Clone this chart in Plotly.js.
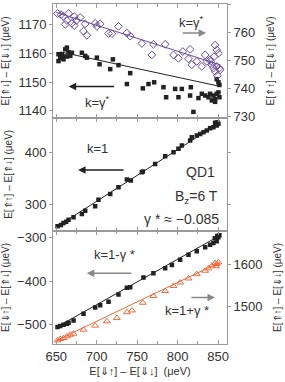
<!DOCTYPE html>
<html><head><meta charset="utf-8">
<script src="https://cdn.plot.ly/plotly-3.0.1.min.js"></script>
<style>html,body{margin:0;padding:0;background:#fff}#c{width:285px;height:382px}</style>
</head><body><div id="c"></div>
<script>
// Top panel: E[⇑↓]-E[⇓↓] (left, black squares) and E[⇑↑]-E[⇓↑] (right, purple diamonds)
const topBlackX = [652.8,654.9,652.8,657,659,661.1,663.2,665.2,663.2,667.3,669.4,659,681.7,685.8,687.9,700.2,703.5,716.7,720,726.9,741.4,737.3,757,764,771,782.5,785.8,796.9,801,805.2,815.4,816.3,819.5,825.7,829.9,834,838.1,840.1,842.2,844.2,846.3,848.3,850.4,851.6,848.3,850.4,851.6,846.3];
const topBlackY = [1159.7,1158.5,1157.3,1159.7,1158.9,1161.4,1162,1160.4,1158.9,1159.1,1160.2,1157.9,1160.2,1159.1,1158.5,1158.5,1156.2,1154.5,1157.9,1155.9,1153.1,1149.3,1147.8,1149.3,1149.9,1148.2,1144.7,1147.6,1144.7,1147.6,1145.3,1148.2,1139.6,1144.4,1145.9,1145.3,1144.7,1145.9,1143.6,1145.3,1144.1,1145.9,1146.4,1144.7,1151,1149.9,1149,1143.1];
const topPurpleX = [651.6,655.8,659,665.2,672.2,663.2,661.1,669.4,674.7,679.6,672.2,683.7,685.8,687.9,700.2,698.1,704.3,714.6,718.8,726.9,737.3,741.4,755.8,770.1,784.6,768.1,794.9,801,806.4,815.4,813.4,817.5,823.7,829.9,834,836,840.1,842.2,846.3,848.3,850.4,845,848.3,851.6,846.3,849.1,852.5,844.2,841];
const topPurpleY = [766.9,766.5,765.9,766.9,765.8,764.4,763,763.4,764.4,765.5,762.6,760.6,763.2,759.1,762.3,763.4,763.2,759.7,759.7,762.3,759.9,758.8,756.2,755.9,755.9,752.1,752.1,750.9,753.3,754.1,750.7,748.6,749.8,748,752.1,749.8,750.4,748.6,755.6,753.9,752.7,751.5,748,747.4,746.2,744.7,746.8,747.4,749.8];
const topBlackFitX = [655, 852];
const topBlackFitY = [1160.5, 1148.5];
const topPurpleFitX = [650, 852];
const topPurpleFitY = [767.3, 748.6];

// Middle panel: E[⇑↑]-E[⇑↓]
const midX = [651.6,655.8,659,662.3,665.2,671.4,681.7,685.8,698.1,702.2,716.7,726.9,737.3,742.2,757,755.8,772.2,784.6,794.9,801,805.2,815.4,817.5,823.7,827.8,831.9,836,840.1,844.2,848.3,850.4,846.3,849.1];
const midY = [259.6,262,265.8,268.3,272.1,276.7,282.9,289.2,297.5,310,320.9,333.6,348,346.1,363.2,362,377.8,392.4,400,406.3,412.6,422,428.5,431.5,434.7,437.9,441,445.5,447.4,450.5,453.7,455.6,456.9];
const midFitX = [650, 852];
const midFitY = [258, 456];

// Bottom panel: E[⇓↑]-E[⇑↓] (left, black) and E[⇑↑]-E[⇓↓] (right, orange)
const botBlackX = [651.6,654.9,659,663.2,665.2,671.4,683.7,698.1,704.3,714.6,726.9,737.3,741.4,757.8,770.1,784.6,792.9,803.1,813.4,823.7,834,840.1,844.2,848.3,850.4,851.6,849,846];
const botBlackY = [-505.3,-503,-500,-497.7,-495.4,-490,-474.6,-460.7,-455.4,-447.6,-430.7,-415.2,-413.9,-392.1,-382.2,-370.7,-363,-351.5,-340,-332.1,-322.9,-316.9,-313,-309,-300,-295,-297,-302];
const botOrangeX = [651.6,654.9,659,663.2,667.3,671.4,683.7,698.1,712.6,724.9,737.3,743.5,757,770.1,784.6,794.9,803.1,813.4,823.7,834,838.1,842.2,846.3,848.3,850.4,847.5];
const botOrangeY = [1418.5,1421.8,1424.2,1428,1432,1434.5,1444,1453.7,1464,1472,1485.6,1489.7,1508,1524,1536,1548,1556,1565.7,1576,1584,1589.7,1596,1602.4,1600,1604,1594.5];
const botBlackFitX = [650, 852];
const botBlackFitY = [-506, -296];
const botOrangeFitX = [650, 852];
const botOrangeFitY = [1418, 1604];

const xTickVals = [650, 700, 750, 800, 850];

const BLACK = '#222222', PURPLE = '#6a4c9c', ORANGE = '#f06a3c', AX = '#9a9a9a', TXT = '#333333';
const FONT = 'Liberation Sans, Arial, sans-serif';

const traces = [
  {x: topBlackX, y: topBlackY, xaxis: 'x', yaxis: 'y', mode: 'markers', marker: {symbol: 'square', size: 4.5, color: BLACK}},
  {x: topBlackFitX, y: topBlackFitY, xaxis: 'x', yaxis: 'y', mode: 'lines', line: {color: BLACK, width: 1}},
  {x: topPurpleX, y: topPurpleY, xaxis: 'x', yaxis: 'y4', mode: 'markers', marker: {symbol: 'diamond-open', size: 6, color: PURPLE, line: {width: 1, color: PURPLE}}},
  {x: topPurpleFitX, y: topPurpleFitY, xaxis: 'x', yaxis: 'y4', mode: 'lines', line: {color: PURPLE, width: 1}},
  {x: midX, y: midY, xaxis: 'x2', yaxis: 'y2', mode: 'markers', marker: {symbol: 'square', size: 4.5, color: BLACK}},
  {x: midFitX, y: midFitY, xaxis: 'x2', yaxis: 'y2', mode: 'lines', line: {color: BLACK, width: 1}},
  {x: botBlackX, y: botBlackY, xaxis: 'x3', yaxis: 'y3', mode: 'markers', marker: {symbol: 'square', size: 4.5, color: BLACK}},
  {x: botBlackFitX, y: botBlackFitY, xaxis: 'x3', yaxis: 'y3', mode: 'lines', line: {color: BLACK, width: 1}},
  {x: botOrangeX, y: botOrangeY, xaxis: 'x3', yaxis: 'y5', mode: 'markers', marker: {symbol: 'triangle-up-open', size: 6, color: ORANGE, line: {width: 1, color: ORANGE}}},
  {x: botOrangeFitX, y: botOrangeFitY, xaxis: 'x3', yaxis: 'y5', mode: 'lines', line: {color: ORANGE, width: 1}}
];

const xBase = {range: [646, 861], showline: true, linecolor: AX, linewidth: 1, mirror: 'ticks', ticks: 'inside', ticklen: 4, tickcolor: AX,
  tickvals: xTickVals, zeroline: false, showgrid: false, minor: {dtick: 25, ticks: 'inside', ticklen: 3, tickcolor: AX, showgrid: false}, tickfont: {size: 13, color: TXT, family: FONT}};
const yBase = {showline: true, linecolor: AX, linewidth: 1, ticks: 'outside', ticklen: 3, tickcolor: AX, zeroline: false, showgrid: false,
  tickfont: {size: 13, color: TXT, family: FONT}, automargin: false};
const titleFont = {size: 10, color: TXT, family: FONT};

function label(x, y, text, size, xanchor) {
  return {xref: 'paper', yref: 'paper', x: x, y: y, text: text, showarrow: false, font: {size: size, color: TXT, family: FONT}, xanchor: xanchor || 'center', yanchor: 'middle'};
}
function arrow(x, y, ax, color) {
  return {xref: 'paper', yref: 'paper', x: x, y: y, ax: ax, ay: 0, text: '', showarrow: true, arrowhead: 2, arrowsize: 1, arrowwidth: 1.5, arrowcolor: color};
}

const layout = {
  width: 285, height: 382, showlegend: false,
  margin: {l: 53, r: 58, t: 4, b: 38},
  paper_bgcolor: '#fff', plot_bgcolor: '#fff',
  font: {family: FONT, color: TXT},
  xaxis: Object.assign({}, xBase, {anchor: 'y', showticklabels: false}),
  xaxis2: Object.assign({}, xBase, {anchor: 'y2', matches: 'x', showticklabels: false}),
  xaxis3: Object.assign({}, xBase, {anchor: 'y3', matches: 'x', showticklabels: true,
    title: {text: 'E[⇓↑] – E[⇓↓]  (μeV)', font: {size: 11, color: TXT, family: FONT}, standoff: 4}}),
  yaxis: Object.assign({}, yBase, {domain: [0.665, 1], anchor: 'x', range: [1137.5, 1177.2], tickvals: [1140, 1150, 1160, 1170],
    title: {text: 'E[⇑↓] – E[⇓↓] (μeV)', font: titleFont, standoff: 10}}),
  yaxis2: Object.assign({}, yBase, {domain: [0.333, 0.665], anchor: 'x2', range: [251, 465], tickvals: [300, 400], mirror: 'ticks',
    title: {text: 'E[⇑↑] – E[⇑↓] (μeV)', font: titleFont, standoff: 10}}),
  yaxis3: Object.assign({}, yBase, {domain: [0, 0.333], anchor: 'x3', range: [-544, -285], tickvals: [-500, -400, -300],
    title: {text: 'E[⇓↑] – E[⇑↓] (μeV)', font: titleFont, standoff: 10}}),
  yaxis4: Object.assign({}, yBase, {overlaying: 'y', side: 'right', anchor: 'x', range: [729.6, 770.3], tickvals: [730, 740, 750, 760, 770],
    title: {text: 'E[⇑↑] – E[⇓↑] (μeV)', font: titleFont, standoff: 12}}),
  yaxis5: Object.assign({}, yBase, {overlaying: 'y3', side: 'right', anchor: 'x3', range: [1410, 1679], tickvals: [1500, 1600],
    title: {text: 'E[⇑↑] – E[⇓↓] (μeV)', font: titleFont, standoff: 12}}),
  annotations: [
    label(0.796, 0.948, 'k=γ<sup>*</sup>', 13),
    arrow(0.88, 0.915, -25, '#888'),
    label(0.253, 0.713, 'k=γ<sup>*</sup>', 13),
    arrow(0.09, 0.757, 47, '#222'),
    label(0.253, 0.576, 'k=1', 13),
    arrow(0.144, 0.512, 47, '#222'),
    label(0.943, 0.507, 'QD1', 14, 'right'),
    label(0.96, 0.433, 'B<sub>z</sub>=6 T', 14, 'right'),
    label(0.964, 0.367, 'γ * ≈ −0.085', 14, 'right'),
    label(0.356, 0.262, 'k=1-γ *', 13),
    arrow(0.194, 0.208, 46, '#888'),
    label(0.77, 0.098, 'k=1+γ *', 13),
    arrow(0.931, 0.137, -25, '#888')
  ]
};

Plotly.newPlot('c', traces, layout, {staticPlot: true, displayModeBar: false});
</script></body></html>
